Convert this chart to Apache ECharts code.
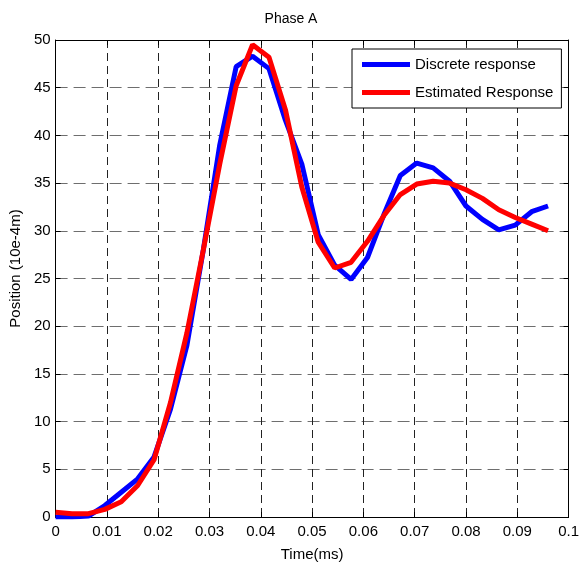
<!DOCTYPE html>
<html>
<head>
<meta charset="utf-8">
<title>Phase A</title>
<script src="https://cdn.jsdelivr.net/npm/echarts@6/dist/echarts.min.js"></script>
<style>
  html, body { margin:0; padding:0; background:#fff; }
  #chart { width:582px; height:568px; }
</style>
</head>
<body>
<div id="chart"></div>
<script>
// ===== data =====
const times = [0, 0.0032, 0.0064, 0.0096, 0.0128, 0.016, 0.0192, 0.0224, 0.0256, 0.0288,
               0.032, 0.0352, 0.0384, 0.0416, 0.0448, 0.048, 0.0512, 0.0544, 0.0576, 0.0608,
               0.064, 0.0672, 0.0704, 0.0736, 0.0768, 0.08, 0.0832, 0.0864, 0.0896, 0.0928, 0.096];
const discrete  = [0, 0, 0.1, 1.2, 2.6, 4.0, 6.3, 11.3, 18.0, 28.0,
                   39.0, 47.2, 48.3, 47.0, 41.6, 37.0, 29.6, 26.4, 24.9, 27.2,
                   31.7, 35.8, 37.1, 36.6, 35.2, 32.6, 31.2, 30.1, 30.6, 32.0, 32.6];
const estimated = [0.5, 0.35, 0.35, 0.8, 1.6, 3.3, 6.0, 12.0, 19.3, 28.0,
                   37.0, 45.2, 49.5, 48.2, 42.7, 34.6, 28.8, 26.1, 26.7, 28.9,
                   31.6, 33.8, 34.9, 35.2, 35.0, 34.3, 33.4, 32.2, 31.4, 30.7, 30.0];
const seriesNames = ['Discrete response', 'Estimated Response'];

const FONT = 'Liberation Sans, Arial, sans-serif';
const pairs = ys => times.map((t, i) => [t, ys[i]]);

const chart = echarts.init(document.getElementById('chart'), null, { renderer:'canvas' });

// box axes (top/right) only carry inward ticks, like the matlab frame
const frameX = {
  type:'value', position:'top', min:0, max:0.1, interval:0.01,
  axisLine:{ show:true, onZero:false, lineStyle:{ color:'#000', width:1 } },
  axisTick:{ show:true, inside:true, length:5, lineStyle:{ color:'#000' } },
  axisLabel:{ show:false }, splitLine:{ show:false }
};
const frameY = {
  type:'value', position:'right', min:0, max:50, interval:5,
  axisLine:{ show:true, onZero:false, lineStyle:{ color:'#000', width:1 } },
  axisTick:{ show:true, inside:true, length:5, lineStyle:{ color:'#000' } },
  axisLabel:{ show:false }, splitLine:{ show:false }
};

chart.setOption({
  animation:false,
  backgroundColor:'#fff',
  textStyle:{ fontFamily:FONT },
  title:{
    text:'Phase A', left:'center', top:12, padding:0,
    textStyle:{ fontFamily:FONT, fontSize:14, fontWeight:'normal', color:'#000' }
  },
  grid:{ left:55, right:9, top:40, bottom:51, containLabel:false },
  legend:{
    data:seriesNames, orient:'vertical', left:352, top:49,
    padding:[8, 8, 8, 10], itemGap:13, itemWidth:48, itemHeight:5, icon:'rect',
    borderColor:'#000', borderWidth:1, backgroundColor:'#fff',
    textStyle:{ fontFamily:FONT, fontSize:15, lineHeight:15, color:'#000' }
  },
  xAxis:[{
    type:'value', min:0, max:0.1, interval:0.01,
    name:'Time(ms)', nameLocation:'middle', nameGap:30,
    nameTextStyle:{ fontFamily:FONT, fontSize:15, color:'#000' },
    axisLine:{ show:true, onZero:false, lineStyle:{ color:'#000', width:1 } },
    axisTick:{ show:true, inside:true, length:5, lineStyle:{ color:'#000' } },
    axisLabel:{ margin:7, fontFamily:FONT, fontSize:15, color:'#000',
                formatter:v => String(+v.toFixed(2)) },
    splitLine:{ show:true, lineStyle:{ color:'#222', width:1, type:[8, 5] } }
  }, frameX],
  yAxis:[{
    type:'value', min:0, max:50, interval:5,
    name:'Position (10e-4m)', nameLocation:'middle', nameGap:28,
    nameTextStyle:{ fontFamily:FONT, fontSize:15, color:'#000', padding:[0, 0, 0, 20] },
    axisLine:{ show:true, onZero:false, lineStyle:{ color:'#000', width:1 } },
    axisTick:{ show:true, inside:true, length:5, lineStyle:{ color:'#000' } },
    axisLabel:{ margin:5, fontFamily:FONT, fontSize:15, color:'#000' },
    splitLine:{ show:true, lineStyle:{ color:'#6e6e6e', width:1, type:[12, 6] } }
  }, frameY],
  series:[
    { name:seriesNames[0], type:'line', data:pairs(discrete), showSymbol:false, symbol:'none',
      color:'#0000ff', lineStyle:{ color:'#0000ff', width:5 }, z:3 },
    { name:seriesNames[1], type:'line', data:pairs(estimated), showSymbol:false, symbol:'none',
      color:'#ff0000', lineStyle:{ color:'#ff0000', width:5 }, z:4 }
  ]
});
</script>
</body>
</html>
